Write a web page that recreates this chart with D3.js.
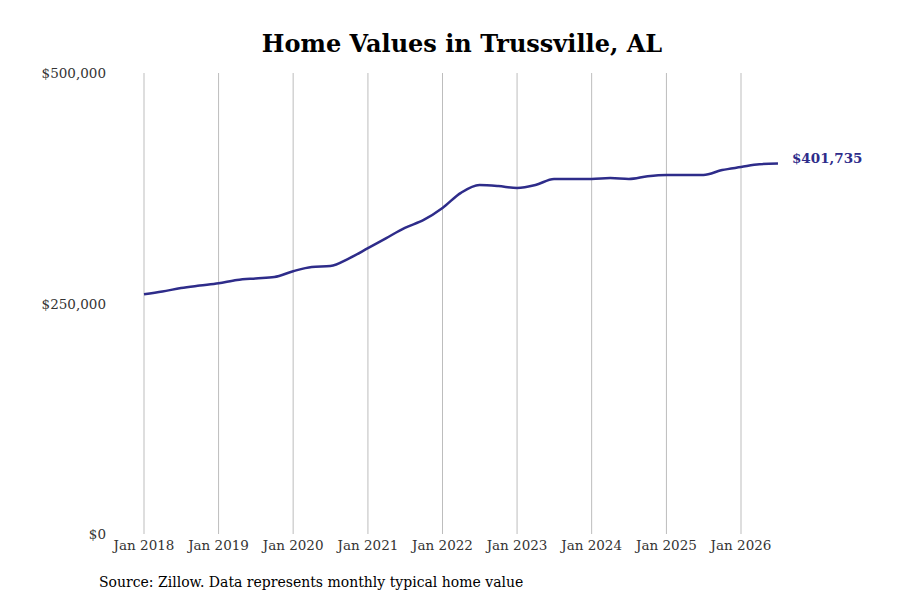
<!DOCTYPE html>
<html>
<head>
<meta charset="utf-8">
<script src="https://d3js.org/d3.v7.min.js"></script>
<style>
  body { margin: 0; background: #fff; }
  text { font-family: "DejaVu Serif", serif; }
</style>
</head>
<body>
<div id="chart"></div>
<script>
// quarterly readings, "YYYY-MM"
const dates = ["2018-01","2018-04","2018-07","2018-10","2019-01","2019-04","2019-07","2019-10",
  "2020-01","2020-04","2020-07","2020-10","2021-01","2021-04","2021-07","2021-10",
  "2022-01","2022-04","2022-07","2022-10","2023-01","2023-04","2023-07","2023-10",
  "2024-01","2024-04","2024-07","2024-10","2025-01","2025-04","2025-07","2025-10",
  "2026-01","2026-04","2026-07"];
const values = [260000,263000,266800,269500,272000,275500,277200,278700,
  285000,289600,290700,299000,310000,321000,332000,340600,
  353600,370000,378500,377400,375300,378500,385000,385000,
  385000,386000,385000,388000,389400,389400,389400,394800,
  398000,401000,401735];
const tickYears = [2018,2019,2020,2021,2022,2023,2024,2025,2026];
const yTicks = [0, 250000, 500000];

const width = 900, height = 600;
const parse = d3.timeParse("%Y-%m");
const data = dates.map((d, i) => ({ date: parse(d), value: values[i] }));

const svg = d3.select("#chart").append("svg")
  .attr("width", width).attr("height", height);

const x = d3.scaleTime()
  .domain([new Date(2018, 0, 1), new Date(2026, 0, 1)])
  .range([144, 741]);
const y = d3.scaleLinear().domain([0, 500000]).range([534, 73]);

// vertical gridlines
svg.append("g").selectAll("line")
  .data(tickYears).enter().append("line")
  .attr("x1", d => x(new Date(d, 0, 1))).attr("x2", d => x(new Date(d, 0, 1)))
  .attr("y1", y(500000)).attr("y2", y(0))
  .attr("stroke", "#bdbdbd").attr("stroke-width", 1);

// x tick labels
svg.append("g").selectAll("text")
  .data(tickYears).enter().append("text")
  .attr("x", d => x(new Date(d, 0, 1))).attr("y", 550)
  .attr("text-anchor", "middle").attr("font-size", 13.5).attr("fill", "#333")
  .text(d => "Jan " + d);

// y tick labels
svg.append("g").selectAll("text")
  .data(yTicks).enter().append("text")
  .attr("x", 106).attr("y", d => y(d) + 5)
  .attr("text-anchor", "end").attr("font-size", 13.5).attr("fill", "#333")
  .text(d => "$" + d3.format(",")(d));

// line
svg.append("path").datum(data)
  .attr("fill", "none").attr("stroke", "#2e2c8a").attr("stroke-width", 2.5)
  .attr("d", d3.line().curve(d3.curveMonotoneX)
    .x(d => x(d.date)).y(d => y(d.value)));

// end label
const last = data[data.length - 1];
svg.append("text")
  .attr("x", x(last.date) + 14).attr("y", y(last.value) - 1)
  .attr("font-size", 13.5).attr("font-weight", "bold").attr("fill", "#2e2c8a")
  .text("$" + d3.format(",")(last.value));

// title
svg.append("text")
  .attr("x", 462).attr("y", 52).attr("text-anchor", "middle")
  .attr("font-size", 24).attr("font-weight", "bold").attr("fill", "#000")
  .text("Home Values in Trussville, AL");

// source
svg.append("text")
  .attr("x", 99).attr("y", 587).attr("font-size", 14).attr("fill", "#000")
  .text("Source: Zillow. Data represents monthly typical home value");
</script>
</body>
</html>
